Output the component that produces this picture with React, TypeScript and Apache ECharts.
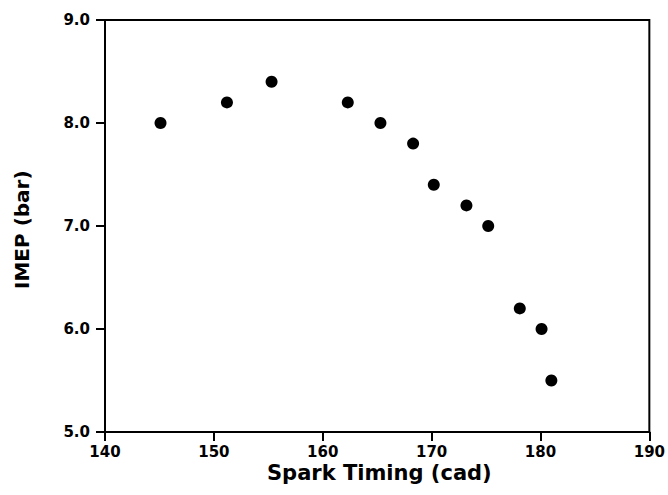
import React, { useEffect, useRef } from "react";
import * as echarts from "echarts";

const sparkTiming = [145.1, 151.2, 155.3, 162.3, 165.3, 168.3, 170.2, 173.2, 175.2, 178.1, 180.1, 181.0];
const imep = [8.0, 8.2, 8.4, 8.2, 8.0, 7.8, 7.4, 7.2, 7.0, 6.2, 6.0, 5.5];
const xTitle = "Spark Timing (cad)";
const yTitle = "IMEP (bar)";

const FONT = "'DejaVu Sans', sans-serif";

export default function App() {
  const ref = useRef<HTMLDivElement>(null);
  useEffect(() => {
    if (!ref.current) return;
    const chart = echarts.init(ref.current, undefined, { renderer: "svg" });
    const points = sparkTiming.map((x, i) => [x, imep[i]]);
    chart.setOption({
      animation: false,
      backgroundColor: "#ffffff",
      grid: {
        left: 105,
        right: 17,
        top: 20,
        bottom: 63,
        show: true,
        borderColor: "#000",
        borderWidth: 2,
        backgroundColor: "transparent",
      },
      xAxis: {
        type: "value",
        min: 140,
        max: 190,
        interval: 10,
        axisLine: { show: true, onZero: false, lineStyle: { color: "#000", width: 2 } },
        axisTick: { show: true, inside: false, length: 9, lineStyle: { color: "#000", width: 2 } },
        axisLabel: { color: "#000", fontFamily: FONT, fontWeight: "bold", fontSize: 15, margin: 12 },
        splitLine: { show: false },
      },
      yAxis: {
        type: "value",
        min: 5,
        max: 9,
        interval: 1,
        axisLine: { show: true, onZero: false, lineStyle: { color: "#000", width: 2 } },
        axisTick: { show: true, inside: false, length: 9, lineStyle: { color: "#000", width: 2 } },
        axisLabel: {
          color: "#000",
          fontFamily: FONT,
          fontWeight: "bold",
          fontSize: 15,
          margin: 15,
          formatter: (v: number) => v.toFixed(1),
        },
        splitLine: { show: false },
      },
      graphic: [
        {
          type: "text",
          left: 383 - 116,
          top: 462,
          style: { text: xTitle, fill: "#000", font: `bold 21px ${FONT}` },
        },
        {
          type: "text",
          x: 12,
          y: 289,
          rotation: Math.PI / 2,
          style: { text: yTitle, fill: "#000", font: `bold 20px ${FONT}`, align: "left", verticalAlign: "top" },
        },
      ],
      series: [
        {
          type: "scatter",
          data: points,
          symbol: "circle",
          symbolSize: 12,
          itemStyle: { color: "#000", opacity: 1 },
        },
      ],
    });
    return () => chart.dispose();
  }, []);
  return <div ref={ref} style={{ position: "absolute", left: 0, top: 0, width: 668, height: 495 }} />;
}
